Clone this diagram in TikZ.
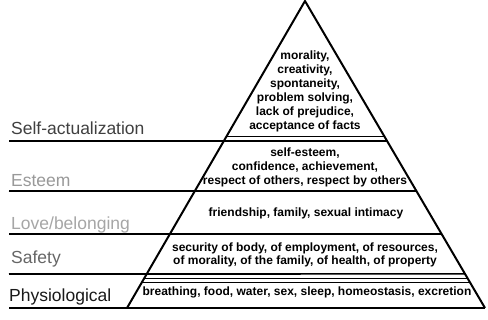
\documentclass[tikz,border=0pt]{standalone}
\usepackage{fontspec}
\setmainfont{Liberation Sans}
\usetikzlibrary{calc}
\begin{document}
\begin{tikzpicture}[x=1pt,y=-1pt,
  edge/.style={line width=2pt, line join=miter},
  band/.style={line width=1.6pt},
  hatch/.style={line width=0.7pt},
  lvl/.style={anchor=base west, font=\fontsize{17.5}{20}\selectfont, inner sep=0pt},
  inner/.style={align=center, font=\bfseries\fontsize{12}{14}\selectfont, inner sep=0pt}]
\useasboundingbox[fill=white] (0,0) rectangle (488,320);
\coordinate (A) at (305,1);
\coordinate (BL) at (127,308);
\coordinate (BR) at (485,308);
% left ends of level lines
\coordinate (L1) at (9,141);
\coordinate (L2) at (9,191);
\coordinate (L3) at (9,234);
\coordinate (L4) at (9,274);
\coordinate (L5) at (9,308);
% right ends on the pyramid edge
\coordinate (R1) at ($(A)!0.456!(BR)$);
\coordinate (R2) at ($(A)!0.619!(BR)$);
\coordinate (R3) at ($(A)!0.759!(BR)$);
\coordinate (R4) at ($(A)!0.889!(BR)$);
% hatch lines inside the pyramid
\coordinate (H1a) at ($(A)!0.440!(BL)$);
\coordinate (H1b) at ($(A)!0.440!(BR)$);
\coordinate (H2a) at ($(A)!0.902!(BL)$);
\coordinate (H2b) at ($(A)!0.902!(BR)$);
\coordinate (H3a) at ($(A)!0.915!(BL)$);
\coordinate (H3b) at ($(A)!0.915!(BR)$);
% pyramid
\draw[edge] (BL) -- (A) -- (BR);
\draw[band] (L1) -- (R1);
\draw[band] (L2) -- (R2);
\draw[band] (L3) -- (R3);
\draw[band] (L4) -- (R4);
\draw[band] (L5) -- (BR);
\draw[hatch] (H1a) -- (H1b);
\draw[hatch] (H2a) -- (H2b);
\draw[hatch] (H3a) -- (H3b);
% level names
\node[lvl, text=black!75] (n1) at (11,135) {Self-actualization};
\node[lvl, text=black!40] (n2) at (11,187) {Esteem};
\node[lvl, text=black!35] (n3) at (11,230) {Love/belonging};
\node[lvl, text=black!60] (n4) at (11,264) {Safety};
\node[lvl, text=black!90] (n5) at (9,302) {Physiological};
% contents
\node[inner] (c1) at (305,91) {morality,\\creativity,\\spontaneity,\\problem solving,\\lack of prejudice,\\acceptance of facts};
\node[inner] (c2) at (305,167) {self-esteem,\\confidence, achievement,\\respect of others, respect by others};
\node[inner] (c3) at (306,213) {friendship, family, sexual intimacy};
\node[inner, font=\bfseries\fontsize{12}{13}\selectfont] (c4) at (305,255) {security of body, of employment, of resources,\\of morality, of the family, of health, of property};
\node[inner] (c5) at (307,292) {breathing, food, water, sex, sleep, homeostasis, excretion};
\end{tikzpicture}
\end{document}
